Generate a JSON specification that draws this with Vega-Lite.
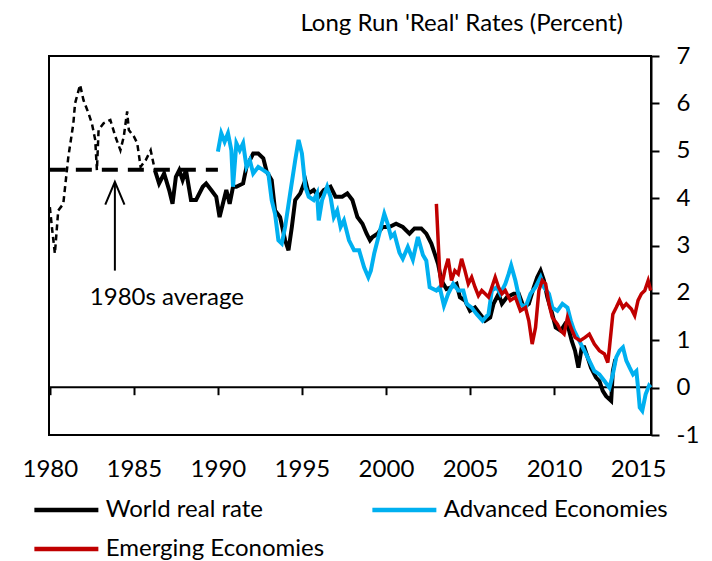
{
  "$schema": "https://vega.github.io/schema/vega-lite/v6.json",
  "width": 602,
  "height": 379,
  "autosize": {"type": "none"},
  "padding": {"left": 49, "top": 56, "right": 61, "bottom": 126},
  "background": "white",
  "title": {"text": "Long Run 'Real' Rates (Percent)", "anchor": "end", "frame": "group", "fontSize": 24, "fontWeight": "normal", "font": "Lato", "color": "#000000", "dx": -28, "offset": 8},
  "config": {
    "view": {"stroke": "#000000", "strokeWidth": 2},
    "font": "Lato",
    "legend": {"orient": "none", "direction": "horizontal", "legendX": 25.7, "legendY": 441, "columns": 2, "symbolType": "M-5,0L1,0", "symbolSize": 455, "symbolStrokeWidth": 4.5, "labelFontSize": 24, "labelFont": "Lato", "labelColor": "#000000", "labelOffset": 5, "columnPadding": 38, "rowPadding": 14, "padding": 0, "labelLimit": 0}
  },
  "datasets": {
    "pre": [
      {"year": 1980.0, "v": 3.81}, {"year": 1980.15, "v": 3.3}, {"year": 1980.3, "v": 2.83}, {"year": 1980.5, "v": 3.74}, {"year": 1980.8, "v": 3.88}, {"year": 1981.1, "v": 4.87}, {"year": 1981.4, "v": 5.58}, {"year": 1981.5, "v": 6.0}, {"year": 1981.8, "v": 6.39}, {"year": 1982.0, "v": 6.07}, {"year": 1982.3, "v": 5.79}, {"year": 1982.5, "v": 5.58}, {"year": 1982.7, "v": 5.23}, {"year": 1982.8, "v": 4.59}, {"year": 1982.9, "v": 5.44}, {"year": 1983.2, "v": 5.58}, {"year": 1983.6, "v": 5.65}, {"year": 1983.9, "v": 5.3}, {"year": 1984.2, "v": 5.01}, {"year": 1984.4, "v": 5.3}, {"year": 1984.6, "v": 5.83}, {"year": 1984.7, "v": 5.44}, {"year": 1985.0, "v": 5.3}, {"year": 1985.2, "v": 5.16}, {"year": 1985.4, "v": 4.66}, {"year": 1985.7, "v": 4.8}, {"year": 1986.0, "v": 5.01}, {"year": 1986.25, "v": 4.59}
    ],
    "world": [
      {"year": 1986.25, "v": 4.59}, {"year": 1986.5, "v": 4.31}, {"year": 1986.8, "v": 4.52}, {"year": 1987.1, "v": 4.17}, {"year": 1987.3, "v": 3.88}, {"year": 1987.5, "v": 4.45}, {"year": 1987.7, "v": 4.59}, {"year": 1987.9, "v": 4.38}, {"year": 1988.1, "v": 4.59}, {"year": 1988.4, "v": 3.96}, {"year": 1988.7, "v": 3.96}, {"year": 1989.1, "v": 4.24}, {"year": 1989.3, "v": 4.31}, {"year": 1989.6, "v": 4.17}, {"year": 1989.9, "v": 4.03}, {"year": 1990.1, "v": 3.6}, {"year": 1990.5, "v": 4.17}, {"year": 1990.7, "v": 3.88}, {"year": 1990.9, "v": 4.24}, {"year": 1991.1, "v": 4.24}, {"year": 1991.5, "v": 4.31}, {"year": 1991.7, "v": 4.66}, {"year": 1992.1, "v": 4.94}, {"year": 1992.4, "v": 4.94}, {"year": 1992.7, "v": 4.84}, {"year": 1992.9, "v": 4.56}, {"year": 1993.2, "v": 4.38}, {"year": 1993.4, "v": 3.74}, {"year": 1993.7, "v": 3.6}, {"year": 1994.0, "v": 3.11}, {"year": 1994.2, "v": 2.9}, {"year": 1994.4, "v": 3.39}, {"year": 1994.6, "v": 3.96}, {"year": 1994.9, "v": 4.1}, {"year": 1995.2, "v": 4.38}, {"year": 1995.4, "v": 4.1}, {"year": 1995.7, "v": 4.17}, {"year": 1996.0, "v": 4.03}, {"year": 1996.3, "v": 4.17}, {"year": 1996.7, "v": 4.24}, {"year": 1997.0, "v": 4.03}, {"year": 1997.4, "v": 4.03}, {"year": 1997.7, "v": 4.1}, {"year": 1998.0, "v": 3.96}, {"year": 1998.3, "v": 3.6}, {"year": 1998.6, "v": 3.46}, {"year": 1998.85, "v": 3.25}, {"year": 1999.05, "v": 3.11}, {"year": 1999.2, "v": 3.18}, {"year": 1999.5, "v": 3.25}, {"year": 1999.8, "v": 3.39}, {"year": 2000.2, "v": 3.39}, {"year": 2000.6, "v": 3.46}, {"year": 2001.0, "v": 3.39}, {"year": 2001.4, "v": 3.25}, {"year": 2001.7, "v": 3.36}, {"year": 2002.1, "v": 3.36}, {"year": 2002.4, "v": 3.25}, {"year": 2002.7, "v": 3.04}, {"year": 2002.9, "v": 2.83}, {"year": 2003.1, "v": 2.61}, {"year": 2003.3, "v": 2.26}, {"year": 2003.6, "v": 2.08}, {"year": 2003.9, "v": 2.12}, {"year": 2004.2, "v": 2.19}, {"year": 2004.4, "v": 1.91}, {"year": 2004.7, "v": 1.84}, {"year": 2005.0, "v": 1.62}, {"year": 2005.3, "v": 1.69}, {"year": 2005.6, "v": 1.55}, {"year": 2005.9, "v": 1.41}, {"year": 2006.2, "v": 1.48}, {"year": 2006.4, "v": 1.77}, {"year": 2006.7, "v": 1.98}, {"year": 2006.9, "v": 1.77}, {"year": 2007.2, "v": 1.91}, {"year": 2007.6, "v": 1.98}, {"year": 2007.9, "v": 1.98}, {"year": 2008.2, "v": 1.69}, {"year": 2008.5, "v": 1.77}, {"year": 2008.8, "v": 2.12}, {"year": 2009.0, "v": 2.33}, {"year": 2009.2, "v": 2.47}, {"year": 2009.4, "v": 2.26}, {"year": 2009.6, "v": 1.91}, {"year": 2009.9, "v": 1.55}, {"year": 2010.1, "v": 1.27}, {"year": 2010.4, "v": 1.2}, {"year": 2010.65, "v": 1.34}, {"year": 2010.85, "v": 1.27}, {"year": 2011.05, "v": 0.99}, {"year": 2011.25, "v": 0.78}, {"year": 2011.45, "v": 0.42}, {"year": 2011.65, "v": 0.85}, {"year": 2011.8, "v": 0.85}, {"year": 2012.0, "v": 0.64}, {"year": 2012.2, "v": 0.42}, {"year": 2012.5, "v": 0.21}, {"year": 2012.7, "v": 0.14}, {"year": 2012.9, "v": -0.07}, {"year": 2013.1, "v": -0.18}, {"year": 2013.4, "v": -0.28}, {"year": 2013.5, "v": 0.35}, {"year": 2013.65, "v": 0.6}
    ],
    "adv": [
      {"year": 1990.0, "v": 4.98}, {"year": 1990.2, "v": 5.37}, {"year": 1990.4, "v": 5.19}, {"year": 1990.6, "v": 5.37}, {"year": 1990.8, "v": 5.01}, {"year": 1990.9, "v": 4.24}, {"year": 1991.1, "v": 5.16}, {"year": 1991.3, "v": 5.01}, {"year": 1991.5, "v": 5.16}, {"year": 1991.7, "v": 4.66}, {"year": 1991.9, "v": 4.8}, {"year": 1992.1, "v": 4.52}, {"year": 1992.4, "v": 4.66}, {"year": 1992.7, "v": 4.59}, {"year": 1993.0, "v": 4.52}, {"year": 1993.2, "v": 3.96}, {"year": 1993.4, "v": 3.67}, {"year": 1993.6, "v": 3.11}, {"year": 1993.8, "v": 3.04}, {"year": 1994.0, "v": 3.39}, {"year": 1994.3, "v": 4.1}, {"year": 1994.6, "v": 4.8}, {"year": 1994.8, "v": 5.23}, {"year": 1995.0, "v": 4.94}, {"year": 1995.2, "v": 4.24}, {"year": 1995.4, "v": 4.03}, {"year": 1995.7, "v": 3.96}, {"year": 1995.9, "v": 4.1}, {"year": 1996.0, "v": 3.53}, {"year": 1996.2, "v": 3.96}, {"year": 1996.5, "v": 4.24}, {"year": 1996.7, "v": 4.03}, {"year": 1996.9, "v": 3.6}, {"year": 1997.1, "v": 3.74}, {"year": 1997.3, "v": 3.39}, {"year": 1997.5, "v": 3.53}, {"year": 1997.8, "v": 3.11}, {"year": 1998.1, "v": 2.9}, {"year": 1998.4, "v": 2.9}, {"year": 1998.7, "v": 2.54}, {"year": 1998.95, "v": 2.33}, {"year": 1999.1, "v": 2.47}, {"year": 1999.3, "v": 2.83}, {"year": 1999.6, "v": 3.25}, {"year": 1999.9, "v": 3.67}, {"year": 2000.1, "v": 3.46}, {"year": 2000.3, "v": 3.18}, {"year": 2000.5, "v": 3.25}, {"year": 2000.8, "v": 2.85}, {"year": 2001.0, "v": 2.72}, {"year": 2001.3, "v": 2.97}, {"year": 2001.6, "v": 2.7}, {"year": 2001.9, "v": 3.18}, {"year": 2002.2, "v": 2.8}, {"year": 2002.4, "v": 2.68}, {"year": 2002.6, "v": 2.12}, {"year": 2003.0, "v": 2.05}, {"year": 2003.2, "v": 2.12}, {"year": 2003.45, "v": 1.73}, {"year": 2003.7, "v": 1.98}, {"year": 2004.0, "v": 2.19}, {"year": 2004.3, "v": 2.05}, {"year": 2004.6, "v": 2.05}, {"year": 2004.8, "v": 1.77}, {"year": 2005.1, "v": 1.69}, {"year": 2005.4, "v": 1.55}, {"year": 2005.75, "v": 1.41}, {"year": 2006.1, "v": 1.55}, {"year": 2006.3, "v": 2.05}, {"year": 2006.6, "v": 2.12}, {"year": 2006.8, "v": 1.98}, {"year": 2007.1, "v": 2.19}, {"year": 2007.3, "v": 2.4}, {"year": 2007.45, "v": 2.58}, {"year": 2007.7, "v": 2.26}, {"year": 2008.0, "v": 1.77}, {"year": 2008.3, "v": 1.69}, {"year": 2008.6, "v": 1.98}, {"year": 2008.9, "v": 2.12}, {"year": 2009.2, "v": 2.33}, {"year": 2009.4, "v": 2.12}, {"year": 2009.7, "v": 1.98}, {"year": 2009.9, "v": 1.69}, {"year": 2010.2, "v": 1.62}, {"year": 2010.5, "v": 1.77}, {"year": 2010.8, "v": 1.69}, {"year": 2011.0, "v": 1.41}, {"year": 2011.2, "v": 1.2}, {"year": 2011.4, "v": 1.06}, {"year": 2011.6, "v": 0.92}, {"year": 2011.8, "v": 0.78}, {"year": 2012.1, "v": 0.57}, {"year": 2012.4, "v": 0.35}, {"year": 2012.7, "v": 0.28}, {"year": 2013.0, "v": 0.14}, {"year": 2013.3, "v": 0.0}, {"year": 2013.5, "v": 0.28}, {"year": 2013.7, "v": 0.64}, {"year": 2013.9, "v": 0.78}, {"year": 2014.1, "v": 0.85}, {"year": 2014.3, "v": 0.57}, {"year": 2014.5, "v": 0.42}, {"year": 2014.7, "v": 0.28}, {"year": 2014.9, "v": 0.35}, {"year": 2015.0, "v": 0.0}, {"year": 2015.1, "v": -0.42}, {"year": 2015.25, "v": -0.49}, {"year": 2015.45, "v": -0.14}, {"year": 2015.65, "v": 0.04}, {"year": 2015.75, "v": 0.0}
    ],
    "em": [
      {"year": 2003.0, "v": 3.88}, {"year": 2003.2, "v": 2.4}, {"year": 2003.3, "v": 2.12}, {"year": 2003.5, "v": 2.47}, {"year": 2003.7, "v": 2.72}, {"year": 2003.9, "v": 2.26}, {"year": 2004.1, "v": 2.47}, {"year": 2004.3, "v": 2.4}, {"year": 2004.5, "v": 2.72}, {"year": 2004.7, "v": 2.47}, {"year": 2004.9, "v": 2.19}, {"year": 2005.1, "v": 2.33}, {"year": 2005.3, "v": 2.12}, {"year": 2005.5, "v": 1.94}, {"year": 2005.7, "v": 2.05}, {"year": 2005.9, "v": 1.98}, {"year": 2006.1, "v": 1.91}, {"year": 2006.3, "v": 2.12}, {"year": 2006.5, "v": 2.33}, {"year": 2006.7, "v": 2.12}, {"year": 2006.9, "v": 1.98}, {"year": 2007.1, "v": 2.05}, {"year": 2007.4, "v": 1.84}, {"year": 2007.7, "v": 1.91}, {"year": 2008.0, "v": 1.62}, {"year": 2008.3, "v": 1.69}, {"year": 2008.5, "v": 1.41}, {"year": 2008.7, "v": 0.92}, {"year": 2008.9, "v": 1.27}, {"year": 2009.1, "v": 2.05}, {"year": 2009.3, "v": 2.26}, {"year": 2009.5, "v": 2.19}, {"year": 2009.7, "v": 1.77}, {"year": 2009.9, "v": 1.48}, {"year": 2010.2, "v": 1.34}, {"year": 2010.4, "v": 1.2}, {"year": 2010.6, "v": 1.13}, {"year": 2010.8, "v": 1.48}, {"year": 2011.0, "v": 1.27}, {"year": 2011.25, "v": 1.06}, {"year": 2011.55, "v": 0.99}, {"year": 2011.85, "v": 1.06}, {"year": 2012.1, "v": 1.13}, {"year": 2012.4, "v": 0.92}, {"year": 2012.7, "v": 0.78}, {"year": 2013.0, "v": 0.71}, {"year": 2013.2, "v": 0.53}, {"year": 2013.3, "v": 0.85}, {"year": 2013.5, "v": 1.55}, {"year": 2013.7, "v": 1.69}, {"year": 2013.9, "v": 1.84}, {"year": 2014.1, "v": 1.69}, {"year": 2014.3, "v": 1.77}, {"year": 2014.6, "v": 1.66}, {"year": 2014.8, "v": 1.52}, {"year": 2015.0, "v": 1.84}, {"year": 2015.2, "v": 1.98}, {"year": 2015.4, "v": 2.05}, {"year": 2015.6, "v": 2.26}, {"year": 2015.75, "v": 2.05}
    ]
  },
  "encoding": {
    "x": {"field": "year", "type": "quantitative", "scale": {"domain": [1979.95, 2015.77], "nice": false, "zero": false},
      "axis": {"orient": "bottom", "offset": -48.3, "values": [1980, 1985, 1990, 1995, 2000, 2005, 2010, 2015], "format": "d", "tickSize": 8, "tickColor": "#000000", "tickWidth": 2, "domainColor": "#000000", "domainWidth": 2, "labelFontSize": 24, "labelFont": "Lato", "labelColor": "#000000", "labelPadding": 63, "title": null, "grid": false, "labelFlush": false, "labelOverlap": false}},
    "y": {"field": "v", "type": "quantitative", "scale": {"domain": [-1, 7], "nice": false, "zero": false},
      "axis": {"orient": "right", "values": [-1, 0, 1, 2, 3, 4, 5, 6, 7], "labelExpr": "replace(datum.label, '\u2212', '-')", "tickSize": 8, "tickColor": "#000000", "tickWidth": 2, "domainColor": "#000000", "domainWidth": 2, "labelFontSize": 24, "labelFont": "Lato", "labelColor": "#000000", "labelPadding": 17, "labelAlign": "left", "title": null, "grid": false}}
  },
  "layer": [
    {
      "data": {"values": [{"year": 1980, "year2": 1990, "v": 4.6}]},
      "mark": {"type": "rule", "color": "#000000", "strokeWidth": 4, "strokeDash": [16, 10]},
      "encoding": {"x2": {"field": "year2"}}
    },
    {
      "data": {"name": "pre"},
      "mark": {"type": "line", "color": "#000000", "strokeWidth": 2.5, "strokeDash": [6, 4]},
      "encoding": {}
    },
    {
      "data": {"name": "world"},
      "mark": {"type": "line", "strokeWidth": 4},
      "encoding": {"color": {"datum": "World real rate", "type": "nominal", "scale": {"domain": ["World real rate", "Advanced Economies", "Emerging Economies"], "range": ["#000000", "#00B0F0", "#C00000"]}, "legend": {"title": null, "direction": "horizontal", "values": ["World real rate", "Advanced Economies", "Emerging Economies"]}}}
    },
    {
      "data": {"name": "adv"},
      "mark": {"type": "line", "strokeWidth": 4},
      "encoding": {"color": {"datum": "Advanced Economies", "type": "nominal"}}
    },
    {
      "data": {"name": "em"},
      "mark": {"type": "line", "strokeWidth": 3.5},
      "encoding": {"color": {"datum": "Emerging Economies", "type": "nominal"}}
    },
    {
      "data": {"values": [{"year": 1983.87, "v": 2.47, "v2": 4.3}]},
      "mark": {"type": "rule", "color": "#000000", "strokeWidth": 2},
      "encoding": {"y2": {"field": "v2"}}
    },
    {
      "data": {"values": [{"year": 1983.87, "v": 4.09}]},
      "mark": {"type": "point", "shape": "M-0.8,0.9L0,-1L0.8,0.9", "filled": false, "stroke": "#000000", "strokeWidth": 2, "size": 576, "opacity": 1},
      "encoding": {}
    },
    {
      "data": {"values": [{"year": 1986.96, "v": 1.9, "label": "1980s average"}]},
      "mark": {"type": "text", "font": "Lato", "fontSize": 24, "color": "#000000", "align": "center", "baseline": "middle"},
      "encoding": {"text": {"field": "label"}}
    }
  ]
}
